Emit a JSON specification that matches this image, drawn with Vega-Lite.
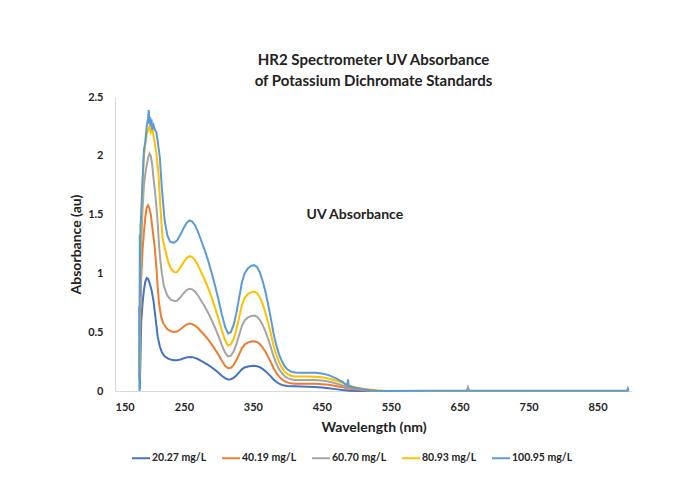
{
  "$schema": "https://vega.github.io/schema/vega-lite/v6.json",
  "autosize": "none",
  "width": 517,
  "height": 294,
  "padding": {"left": 115, "top": 97, "right": 62, "bottom": 95},
  "background": "white",
  "config": {
    "view": {"stroke": null},
    "font": "Lato",
    "axis": {"grid": false, "domainColor": "#D9D9D9", "domainWidth": 1, "ticks": false, "labelFont": "Lato", "labelFontWeight": "bold", "labelFontSize": 11, "labelColor": "#262626", "titleFont": "Lato", "titleFontWeight": "bold", "titleFontSize": 14, "titleColor": "#222222"}
  },
  "title": {
    "text": ["HR2 Spectrometer UV Absorbance", "of Potassium Dichromate Standards"],
    "font": "Lato", "fontSize": 15, "fontWeight": "bold", "color": "#222222", "anchor": "middle", "offset": 2, "lineHeight": 21
  },
  "layer": [
    {
      "data": {"values": [
        {"c":"20.27 mg/L","w":186,"a":0.02},{"c":"20.27 mg/L","w":187,"a":0.3},{"c":"20.27 mg/L","w":188,"a":0.58},{"c":"20.27 mg/L","w":190,"a":0.75},{"c":"20.27 mg/L","w":192,"a":0.86},{"c":"20.27 mg/L","w":194,"a":0.93},{"c":"20.27 mg/L","w":196,"a":0.96},{"c":"20.27 mg/L","w":198,"a":0.955},{"c":"20.27 mg/L","w":200,"a":0.92},{"c":"20.27 mg/L","w":203,"a":0.86},{"c":"20.27 mg/L","w":206,"a":0.76},{"c":"20.27 mg/L","w":208,"a":0.66},{"c":"20.27 mg/L","w":210,"a":0.56},{"c":"20.27 mg/L","w":212,"a":0.46},{"c":"20.27 mg/L","w":215,"a":0.38},{"c":"20.27 mg/L","w":218,"a":0.33},{"c":"20.27 mg/L","w":222,"a":0.295},{"c":"20.27 mg/L","w":227,"a":0.275},{"c":"20.27 mg/L","w":232,"a":0.265},{"c":"20.27 mg/L","w":236,"a":0.262},{"c":"20.27 mg/L","w":240,"a":0.262},{"c":"20.27 mg/L","w":245,"a":0.268},{"c":"20.27 mg/L","w":250,"a":0.278},{"c":"20.27 mg/L","w":254,"a":0.286},{"c":"20.27 mg/L","w":258,"a":0.29},{"c":"20.27 mg/L","w":262,"a":0.288},{"c":"20.27 mg/L","w":266,"a":0.282},{"c":"20.27 mg/L","w":270,"a":0.272},{"c":"20.27 mg/L","w":275,"a":0.256},{"c":"20.27 mg/L","w":280,"a":0.24},{"c":"20.27 mg/L","w":285,"a":0.222},{"c":"20.27 mg/L","w":290,"a":0.202},{"c":"20.27 mg/L","w":295,"a":0.18},{"c":"20.27 mg/L","w":300,"a":0.156},{"c":"20.27 mg/L","w":305,"a":0.13},{"c":"20.27 mg/L","w":310,"a":0.108},{"c":"20.27 mg/L","w":314,"a":0.098},{"c":"20.27 mg/L","w":318,"a":0.1},{"c":"20.27 mg/L","w":322,"a":0.112},{"c":"20.27 mg/L","w":326,"a":0.132},{"c":"20.27 mg/L","w":330,"a":0.158},{"c":"20.27 mg/L","w":334,"a":0.184},{"c":"20.27 mg/L","w":338,"a":0.2},{"c":"20.27 mg/L","w":343,"a":0.209},{"c":"20.27 mg/L","w":348,"a":0.213},{"c":"20.27 mg/L","w":352,"a":0.214},{"c":"20.27 mg/L","w":356,"a":0.211},{"c":"20.27 mg/L","w":360,"a":0.202},{"c":"20.27 mg/L","w":364,"a":0.188},{"c":"20.27 mg/L","w":368,"a":0.17},{"c":"20.27 mg/L","w":372,"a":0.148},{"c":"20.27 mg/L","w":376,"a":0.124},{"c":"20.27 mg/L","w":380,"a":0.098},{"c":"20.27 mg/L","w":384,"a":0.078},{"c":"20.27 mg/L","w":388,"a":0.062},{"c":"20.27 mg/L","w":392,"a":0.052},{"c":"20.27 mg/L","w":396,"a":0.046},{"c":"20.27 mg/L","w":400,"a":0.043},{"c":"20.27 mg/L","w":411,"a":0.04},{"c":"20.27 mg/L","w":420,"a":0.038},{"c":"20.27 mg/L","w":430,"a":0.036},{"c":"20.27 mg/L","w":440,"a":0.034},{"c":"20.27 mg/L","w":450,"a":0.03},{"c":"20.27 mg/L","w":460,"a":0.024},{"c":"20.27 mg/L","w":470,"a":0.016},{"c":"20.27 mg/L","w":480,"a":0.008},{"c":"20.27 mg/L","w":490,"a":0.002},{"c":"20.27 mg/L","w":500,"a":0.001},{"c":"20.27 mg/L","w":600,"a":0.001},{"c":"20.27 mg/L","w":700,"a":0.001},{"c":"20.27 mg/L","w":800,"a":0.001},{"c":"20.27 mg/L","w":895,"a":0.001},

        {"c":"40.19 mg/L","w":185,"a":0.29},{"c":"40.19 mg/L","w":185.5,"a":0.1},{"c":"40.19 mg/L","w":186,"a":0.3},{"c":"40.19 mg/L","w":187,"a":0.7},{"c":"40.19 mg/L","w":188,"a":0.95},{"c":"40.19 mg/L","w":190,"a":1.2},{"c":"40.19 mg/L","w":192,"a":1.35},{"c":"40.19 mg/L","w":194,"a":1.48},{"c":"40.19 mg/L","w":196,"a":1.56},{"c":"40.19 mg/L","w":198,"a":1.58},{"c":"40.19 mg/L","w":200,"a":1.55},{"c":"40.19 mg/L","w":202,"a":1.5},{"c":"40.19 mg/L","w":204,"a":1.4},{"c":"40.19 mg/L","w":206,"a":1.3},{"c":"40.19 mg/L","w":208,"a":1.2},{"c":"40.19 mg/L","w":210,"a":1.05},{"c":"40.19 mg/L","w":212,"a":0.88},{"c":"40.19 mg/L","w":214,"a":0.74},{"c":"40.19 mg/L","w":217,"a":0.63},{"c":"40.19 mg/L","w":220,"a":0.575},{"c":"40.19 mg/L","w":226,"a":0.525},{"c":"40.19 mg/L","w":232,"a":0.505},{"c":"40.19 mg/L","w":236,"a":0.502},{"c":"40.19 mg/L","w":240,"a":0.506},{"c":"40.19 mg/L","w":245,"a":0.525},{"c":"40.19 mg/L","w":250,"a":0.549},{"c":"40.19 mg/L","w":254,"a":0.565},{"c":"40.19 mg/L","w":258,"a":0.573},{"c":"40.19 mg/L","w":262,"a":0.569},{"c":"40.19 mg/L","w":266,"a":0.557},{"c":"40.19 mg/L","w":270,"a":0.537},{"c":"40.19 mg/L","w":275,"a":0.506},{"c":"40.19 mg/L","w":280,"a":0.474},{"c":"40.19 mg/L","w":285,"a":0.438},{"c":"40.19 mg/L","w":290,"a":0.399},{"c":"40.19 mg/L","w":295,"a":0.356},{"c":"40.19 mg/L","w":300,"a":0.308},{"c":"40.19 mg/L","w":305,"a":0.257},{"c":"40.19 mg/L","w":310,"a":0.213},{"c":"40.19 mg/L","w":314,"a":0.194},{"c":"40.19 mg/L","w":318,"a":0.198},{"c":"40.19 mg/L","w":322,"a":0.221},{"c":"40.19 mg/L","w":326,"a":0.261},{"c":"40.19 mg/L","w":330,"a":0.312},{"c":"40.19 mg/L","w":334,"a":0.363},{"c":"40.19 mg/L","w":338,"a":0.395},{"c":"40.19 mg/L","w":343,"a":0.413},{"c":"40.19 mg/L","w":348,"a":0.421},{"c":"40.19 mg/L","w":352,"a":0.423},{"c":"40.19 mg/L","w":356,"a":0.417},{"c":"40.19 mg/L","w":360,"a":0.399},{"c":"40.19 mg/L","w":364,"a":0.371},{"c":"40.19 mg/L","w":368,"a":0.336},{"c":"40.19 mg/L","w":372,"a":0.292},{"c":"40.19 mg/L","w":376,"a":0.245},{"c":"40.19 mg/L","w":380,"a":0.194},{"c":"40.19 mg/L","w":384,"a":0.154},{"c":"40.19 mg/L","w":388,"a":0.122},{"c":"40.19 mg/L","w":392,"a":0.101},{"c":"40.19 mg/L","w":396,"a":0.083},{"c":"40.19 mg/L","w":400,"a":0.073},{"c":"40.19 mg/L","w":405,"a":0.065},{"c":"40.19 mg/L","w":411,"a":0.062},{"c":"40.19 mg/L","w":420,"a":0.062},{"c":"40.19 mg/L","w":430,"a":0.062},{"c":"40.19 mg/L","w":440,"a":0.061},{"c":"40.19 mg/L","w":450,"a":0.058},{"c":"40.19 mg/L","w":460,"a":0.053},{"c":"40.19 mg/L","w":470,"a":0.043},{"c":"40.19 mg/L","w":480,"a":0.031},{"c":"40.19 mg/L","w":490,"a":0.02},{"c":"40.19 mg/L","w":500,"a":0.013},{"c":"40.19 mg/L","w":510,"a":0.007},{"c":"40.19 mg/L","w":520,"a":0.002},{"c":"40.19 mg/L","w":530,"a":0.001},{"c":"40.19 mg/L","w":600,"a":0.001},{"c":"40.19 mg/L","w":700,"a":0.001},{"c":"40.19 mg/L","w":800,"a":0.001},{"c":"40.19 mg/L","w":895,"a":0.001},

        {"c":"60.70 mg/L","w":185,"a":0.25},{"c":"60.70 mg/L","w":185.5,"a":0.1},{"c":"60.70 mg/L","w":186,"a":0.6},{"c":"60.70 mg/L","w":187,"a":1.0},{"c":"60.70 mg/L","w":188,"a":1.25},{"c":"60.70 mg/L","w":190,"a":1.55},{"c":"60.70 mg/L","w":192,"a":1.75},{"c":"60.70 mg/L","w":194,"a":1.85},{"c":"60.70 mg/L","w":196,"a":1.92},{"c":"60.70 mg/L","w":198,"a":1.98},{"c":"60.70 mg/L","w":200,"a":2.02},{"c":"60.70 mg/L","w":202,"a":2.0},{"c":"60.70 mg/L","w":204,"a":1.92},{"c":"60.70 mg/L","w":206,"a":1.8},{"c":"60.70 mg/L","w":208,"a":1.7},{"c":"60.70 mg/L","w":210,"a":1.57},{"c":"60.70 mg/L","w":212,"a":1.42},{"c":"60.70 mg/L","w":214,"a":1.23},{"c":"60.70 mg/L","w":216,"a":1.1},{"c":"60.70 mg/L","w":218,"a":1.0},{"c":"60.70 mg/L","w":221,"a":0.89},{"c":"60.70 mg/L","w":226,"a":0.81},{"c":"60.70 mg/L","w":231,"a":0.775},{"c":"60.70 mg/L","w":236,"a":0.765},{"c":"60.70 mg/L","w":240,"a":0.768},{"c":"60.70 mg/L","w":245,"a":0.798},{"c":"60.70 mg/L","w":250,"a":0.834},{"c":"60.70 mg/L","w":254,"a":0.858},{"c":"60.70 mg/L","w":258,"a":0.87},{"c":"60.70 mg/L","w":262,"a":0.864},{"c":"60.70 mg/L","w":266,"a":0.846},{"c":"60.70 mg/L","w":270,"a":0.816},{"c":"60.70 mg/L","w":275,"a":0.768},{"c":"60.70 mg/L","w":280,"a":0.72},{"c":"60.70 mg/L","w":285,"a":0.666},{"c":"60.70 mg/L","w":290,"a":0.606},{"c":"60.70 mg/L","w":295,"a":0.54},{"c":"60.70 mg/L","w":300,"a":0.468},{"c":"60.70 mg/L","w":305,"a":0.39},{"c":"60.70 mg/L","w":310,"a":0.324},{"c":"60.70 mg/L","w":314,"a":0.294},{"c":"60.70 mg/L","w":318,"a":0.3},{"c":"60.70 mg/L","w":322,"a":0.336},{"c":"60.70 mg/L","w":326,"a":0.396},{"c":"60.70 mg/L","w":330,"a":0.474},{"c":"60.70 mg/L","w":334,"a":0.552},{"c":"60.70 mg/L","w":338,"a":0.6},{"c":"60.70 mg/L","w":343,"a":0.627},{"c":"60.70 mg/L","w":348,"a":0.639},{"c":"60.70 mg/L","w":352,"a":0.642},{"c":"60.70 mg/L","w":356,"a":0.633},{"c":"60.70 mg/L","w":360,"a":0.606},{"c":"60.70 mg/L","w":364,"a":0.564},{"c":"60.70 mg/L","w":368,"a":0.51},{"c":"60.70 mg/L","w":372,"a":0.444},{"c":"60.70 mg/L","w":376,"a":0.372},{"c":"60.70 mg/L","w":380,"a":0.294},{"c":"60.70 mg/L","w":384,"a":0.234},{"c":"60.70 mg/L","w":388,"a":0.186},{"c":"60.70 mg/L","w":392,"a":0.153},{"c":"60.70 mg/L","w":396,"a":0.126},{"c":"60.70 mg/L","w":400,"a":0.111},{"c":"60.70 mg/L","w":405,"a":0.099},{"c":"60.70 mg/L","w":411,"a":0.094},{"c":"60.70 mg/L","w":420,"a":0.094},{"c":"60.70 mg/L","w":430,"a":0.094},{"c":"60.70 mg/L","w":440,"a":0.093},{"c":"60.70 mg/L","w":450,"a":0.089},{"c":"60.70 mg/L","w":460,"a":0.081},{"c":"60.70 mg/L","w":470,"a":0.066},{"c":"60.70 mg/L","w":480,"a":0.047},{"c":"60.70 mg/L","w":490,"a":0.03},{"c":"60.70 mg/L","w":500,"a":0.018},{"c":"60.70 mg/L","w":510,"a":0.01},{"c":"60.70 mg/L","w":520,"a":0.004},{"c":"60.70 mg/L","w":530,"a":0.002},{"c":"60.70 mg/L","w":545,"a":0.001},{"c":"60.70 mg/L","w":600,"a":0.001},{"c":"60.70 mg/L","w":660,"a":0.002},{"c":"60.70 mg/L","w":662,"a":0.035},{"c":"60.70 mg/L","w":664,"a":0.002},{"c":"60.70 mg/L","w":700,"a":0.001},{"c":"60.70 mg/L","w":800,"a":0.001},{"c":"60.70 mg/L","w":895,"a":0.001},

        {"c":"80.93 mg/L","w":185,"a":0.37},{"c":"80.93 mg/L","w":185.5,"a":0.15},{"c":"80.93 mg/L","w":186,"a":0.7},{"c":"80.93 mg/L","w":187,"a":1.1},{"c":"80.93 mg/L","w":188,"a":1.4},{"c":"80.93 mg/L","w":190,"a":1.75},{"c":"80.93 mg/L","w":192,"a":2.0},{"c":"80.93 mg/L","w":194,"a":2.1},{"c":"80.93 mg/L","w":196,"a":2.18},{"c":"80.93 mg/L","w":198,"a":2.22},{"c":"80.93 mg/L","w":200,"a":2.25},{"c":"80.93 mg/L","w":202,"a":2.2},{"c":"80.93 mg/L","w":204,"a":2.23},{"c":"80.93 mg/L","w":206,"a":2.17},{"c":"80.93 mg/L","w":208,"a":2.1},{"c":"80.93 mg/L","w":210,"a":2.02},{"c":"80.93 mg/L","w":213,"a":1.85},{"c":"80.93 mg/L","w":216,"a":1.55},{"c":"80.93 mg/L","w":219,"a":1.3},{"c":"80.93 mg/L","w":222,"a":1.22},{"c":"80.93 mg/L","w":227,"a":1.1},{"c":"80.93 mg/L","w":231,"a":1.04},{"c":"80.93 mg/L","w":236,"a":1.01},{"c":"80.93 mg/L","w":240,"a":1.011},{"c":"80.93 mg/L","w":245,"a":1.051},{"c":"80.93 mg/L","w":250,"a":1.098},{"c":"80.93 mg/L","w":254,"a":1.13},{"c":"80.93 mg/L","w":258,"a":1.146},{"c":"80.93 mg/L","w":262,"a":1.138},{"c":"80.93 mg/L","w":266,"a":1.114},{"c":"80.93 mg/L","w":270,"a":1.074},{"c":"80.93 mg/L","w":275,"a":1.011},{"c":"80.93 mg/L","w":280,"a":0.948},{"c":"80.93 mg/L","w":285,"a":0.877},{"c":"80.93 mg/L","w":290,"a":0.798},{"c":"80.93 mg/L","w":295,"a":0.711},{"c":"80.93 mg/L","w":300,"a":0.616},{"c":"80.93 mg/L","w":305,"a":0.514},{"c":"80.93 mg/L","w":310,"a":0.427},{"c":"80.93 mg/L","w":314,"a":0.387},{"c":"80.93 mg/L","w":318,"a":0.395},{"c":"80.93 mg/L","w":322,"a":0.442},{"c":"80.93 mg/L","w":326,"a":0.521},{"c":"80.93 mg/L","w":330,"a":0.624},{"c":"80.93 mg/L","w":334,"a":0.727},{"c":"80.93 mg/L","w":338,"a":0.79},{"c":"80.93 mg/L","w":343,"a":0.826},{"c":"80.93 mg/L","w":348,"a":0.841},{"c":"80.93 mg/L","w":352,"a":0.845},{"c":"80.93 mg/L","w":356,"a":0.833},{"c":"80.93 mg/L","w":360,"a":0.798},{"c":"80.93 mg/L","w":364,"a":0.743},{"c":"80.93 mg/L","w":368,"a":0.672},{"c":"80.93 mg/L","w":372,"a":0.585},{"c":"80.93 mg/L","w":376,"a":0.49},{"c":"80.93 mg/L","w":380,"a":0.387},{"c":"80.93 mg/L","w":384,"a":0.308},{"c":"80.93 mg/L","w":388,"a":0.245},{"c":"80.93 mg/L","w":392,"a":0.201},{"c":"80.93 mg/L","w":396,"a":0.166},{"c":"80.93 mg/L","w":400,"a":0.146},{"c":"80.93 mg/L","w":405,"a":0.13},{"c":"80.93 mg/L","w":411,"a":0.124},{"c":"80.93 mg/L","w":420,"a":0.123},{"c":"80.93 mg/L","w":430,"a":0.123},{"c":"80.93 mg/L","w":440,"a":0.122},{"c":"80.93 mg/L","w":450,"a":0.117},{"c":"80.93 mg/L","w":460,"a":0.107},{"c":"80.93 mg/L","w":470,"a":0.09},{"c":"80.93 mg/L","w":480,"a":0.07},{"c":"80.93 mg/L","w":490,"a":0.045},{"c":"80.93 mg/L","w":500,"a":0.03},{"c":"80.93 mg/L","w":510,"a":0.02},{"c":"80.93 mg/L","w":520,"a":0.012},{"c":"80.93 mg/L","w":530,"a":0.006},{"c":"80.93 mg/L","w":545,"a":0.001},{"c":"80.93 mg/L","w":600,"a":0.001},{"c":"80.93 mg/L","w":700,"a":0.001},{"c":"80.93 mg/L","w":800,"a":0.001},{"c":"80.93 mg/L","w":895,"a":0.001},

        {"c":"100.95 mg/L","w":185,"a":0.72},{"c":"100.95 mg/L","w":185.5,"a":0.0},{"c":"100.95 mg/L","w":186,"a":1.33},{"c":"100.95 mg/L","w":186.5,"a":0.8},{"c":"100.95 mg/L","w":187,"a":1.4},{"c":"100.95 mg/L","w":188,"a":1.5},{"c":"100.95 mg/L","w":190,"a":1.8},{"c":"100.95 mg/L","w":192,"a":2.05},{"c":"100.95 mg/L","w":194,"a":2.12},{"c":"100.95 mg/L","w":196,"a":2.25},{"c":"100.95 mg/L","w":198,"a":2.32},{"c":"100.95 mg/L","w":199,"a":2.39},{"c":"100.95 mg/L","w":200,"a":2.27},{"c":"100.95 mg/L","w":201,"a":2.33},{"c":"100.95 mg/L","w":202,"a":2.25},{"c":"100.95 mg/L","w":203,"a":2.31},{"c":"100.95 mg/L","w":204,"a":2.22},{"c":"100.95 mg/L","w":206,"a":2.26},{"c":"100.95 mg/L","w":208,"a":2.22},{"c":"100.95 mg/L","w":210,"a":2.2},{"c":"100.95 mg/L","w":212,"a":2.12},{"c":"100.95 mg/L","w":215,"a":1.99},{"c":"100.95 mg/L","w":218,"a":1.72},{"c":"100.95 mg/L","w":222,"a":1.45},{"c":"100.95 mg/L","w":226,"a":1.32},{"c":"100.95 mg/L","w":230,"a":1.27},{"c":"100.95 mg/L","w":235,"a":1.26},{"c":"100.95 mg/L","w":240,"a":1.28},{"c":"100.95 mg/L","w":245,"a":1.33},{"c":"100.95 mg/L","w":250,"a":1.39},{"c":"100.95 mg/L","w":254,"a":1.43},{"c":"100.95 mg/L","w":258,"a":1.45},{"c":"100.95 mg/L","w":262,"a":1.44},{"c":"100.95 mg/L","w":266,"a":1.41},{"c":"100.95 mg/L","w":270,"a":1.36},{"c":"100.95 mg/L","w":275,"a":1.28},{"c":"100.95 mg/L","w":280,"a":1.2},{"c":"100.95 mg/L","w":285,"a":1.11},{"c":"100.95 mg/L","w":290,"a":1.01},{"c":"100.95 mg/L","w":295,"a":0.9},{"c":"100.95 mg/L","w":300,"a":0.78},{"c":"100.95 mg/L","w":305,"a":0.65},{"c":"100.95 mg/L","w":310,"a":0.54},{"c":"100.95 mg/L","w":314,"a":0.49},{"c":"100.95 mg/L","w":318,"a":0.5},{"c":"100.95 mg/L","w":322,"a":0.56},{"c":"100.95 mg/L","w":326,"a":0.66},{"c":"100.95 mg/L","w":330,"a":0.79},{"c":"100.95 mg/L","w":334,"a":0.92},{"c":"100.95 mg/L","w":338,"a":1.0},{"c":"100.95 mg/L","w":343,"a":1.045},{"c":"100.95 mg/L","w":348,"a":1.065},{"c":"100.95 mg/L","w":352,"a":1.07},{"c":"100.95 mg/L","w":356,"a":1.055},{"c":"100.95 mg/L","w":360,"a":1.01},{"c":"100.95 mg/L","w":364,"a":0.94},{"c":"100.95 mg/L","w":368,"a":0.85},{"c":"100.95 mg/L","w":372,"a":0.74},{"c":"100.95 mg/L","w":376,"a":0.62},{"c":"100.95 mg/L","w":380,"a":0.49},{"c":"100.95 mg/L","w":384,"a":0.39},{"c":"100.95 mg/L","w":388,"a":0.31},{"c":"100.95 mg/L","w":392,"a":0.255},{"c":"100.95 mg/L","w":396,"a":0.21},{"c":"100.95 mg/L","w":400,"a":0.185},{"c":"100.95 mg/L","w":405,"a":0.165},{"c":"100.95 mg/L","w":411,"a":0.157},{"c":"100.95 mg/L","w":420,"a":0.156},{"c":"100.95 mg/L","w":430,"a":0.156},{"c":"100.95 mg/L","w":440,"a":0.155},{"c":"100.95 mg/L","w":450,"a":0.148},{"c":"100.95 mg/L","w":460,"a":0.135},{"c":"100.95 mg/L","w":470,"a":0.11},{"c":"100.95 mg/L","w":480,"a":0.078},{"c":"100.95 mg/L","w":487,"a":0.045},{"c":"100.95 mg/L","w":488,"a":0.1},{"c":"100.95 mg/L","w":489,"a":0.04},{"c":"100.95 mg/L","w":500,"a":0.025},{"c":"100.95 mg/L","w":510,"a":0.015},{"c":"100.95 mg/L","w":520,"a":0.006},{"c":"100.95 mg/L","w":530,"a":0.003},{"c":"100.95 mg/L","w":545,"a":0.001},{"c":"100.95 mg/L","w":600,"a":0.002},{"c":"100.95 mg/L","w":700,"a":0.002},{"c":"100.95 mg/L","w":800,"a":0.003},{"c":"100.95 mg/L","w":893,"a":0.003},{"c":"100.95 mg/L","w":894,"a":0.02},{"c":"100.95 mg/L","w":895,"a":0.003}
      ]},
      "mark": {"type": "line", "strokeWidth": 2, "interpolate": "linear"},
      "encoding": {
        "x": {"field": "w", "type": "quantitative", "scale": {"domain": [150, 900], "nice": false, "zero": false}, "axis": {"values": [150, 250, 350, 450, 550, 650, 750, 850], "title": "Wavelength (nm)", "labelPadding": 10, "titlePadding": 8}},
        "y": {"field": "a", "type": "quantitative", "scale": {"domain": [0, 2.5], "nice": false}, "axis": {"values": [0, 0.5, 1, 1.5, 2, 2.5], "format": "~g", "title": "Absorbance (au)", "labelPadding": 12, "titlePadding": 4}},
        "color": {"field": "c", "type": "nominal", "scale": {"domain": ["20.27 mg/L", "40.19 mg/L", "60.70 mg/L", "80.93 mg/L", "100.95 mg/L"], "range": ["#4472C4", "#ED7D31", "#A5A5A5", "#FFC000", "#5B9BD5"]},
          "legend": {"title": null, "orient": "none", "legendX": 16, "legendY": 351, "direction": "horizontal", "columns": 5, "symbolType": "stroke", "symbolSize": 324, "symbolStrokeWidth": 2, "labelFont": "Lato", "labelFontSize": 10.5, "labelFontWeight": "bold", "labelColor": "#262626", "labelOffset": 1, "columnPadding": 11}}
      }
    },
    {
      "data": {"values": [{"w": 498, "a": 1.5, "t": "UV Absorbance"}]},
      "mark": {"type": "text", "font": "Lato", "fontSize": 14, "fontWeight": "bold", "color": "#222222", "align": "center", "baseline": "middle"},
      "encoding": {
        "x": {"field": "w", "type": "quantitative"},
        "y": {"field": "a", "type": "quantitative"},
        "text": {"field": "t"}
      }
    }
  ]
}
